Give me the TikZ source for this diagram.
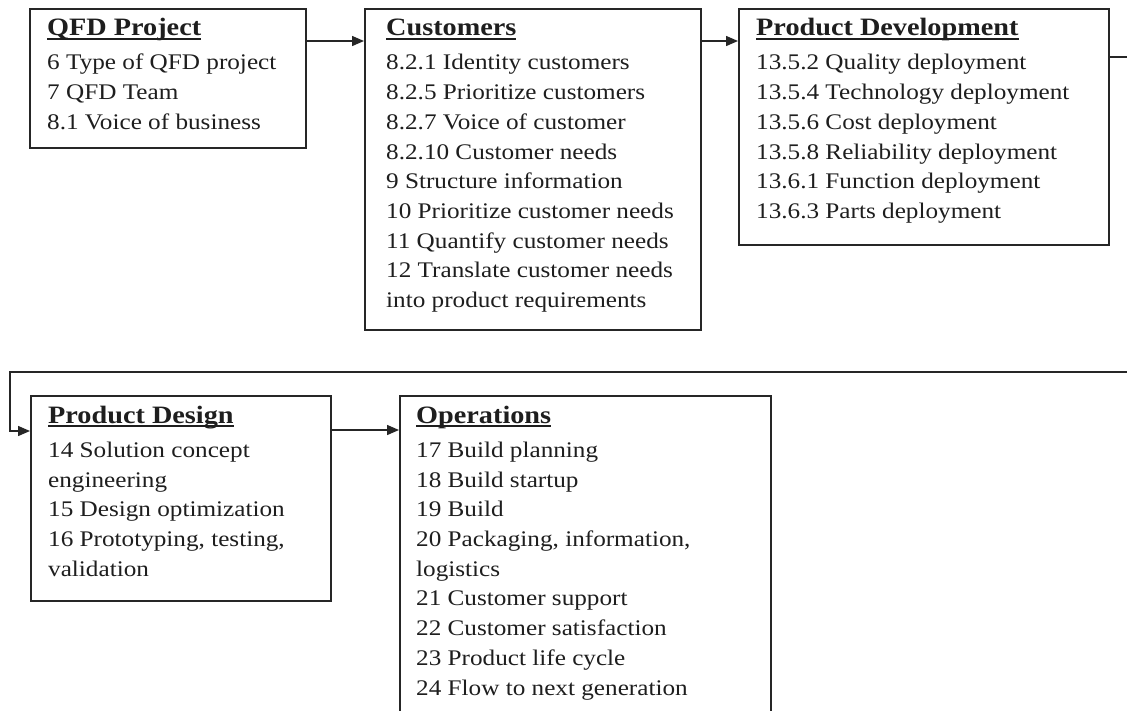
\documentclass[tikz,border=0pt]{standalone}
\usepackage{fontspec}
\setmainfont[FakeStretch=1.13]{Liberation Serif}
\usetikzlibrary{arrows.meta}
\definecolor{ink}{HTML}{1E1E1E}
\definecolor{edge}{HTML}{262626}
\newcommand{\boxtitle}[1]{{\fontsize{25}{29.7}\selectfont\bfseries\setbox0\hbox{#1}\rlap{\rule[-4pt]{\wd0}{1.9pt}}\box0}}
\newcommand{\firststrut}{\rule{0pt}{20pt}}
\begin{document}
\begin{tikzpicture}[x=1pt,y=-1pt,
  panel/.style={draw=edge, line width=1.6pt, anchor=north west, inner sep=0pt},
  txt/.style={anchor=north west, inner sep=0pt, align=left, text=ink,
    font=\fontsize{22.3}{29.7}\selectfont},
  conn/.style={draw=edge, line width=1.4pt},
  arr/.style={conn, -{Triangle[length=12pt,width=10pt]}}]
\useasboundingbox (0,0) rectangle (1127,710);
\fill[white] (0,0) rectangle (1127,710);
\clip (0,0) rectangle (1127,710);

% boxes
\node[panel, minimum width=276pt, minimum height=139pt] (qfd) at (29,8) {};
\node[panel, minimum width=336pt, minimum height=321pt] (cust) at (364,8) {};
\node[panel, minimum width=370pt, minimum height=236pt] (pd) at (738,8) {};
\node[panel, minimum width=300pt, minimum height=205pt] (pdes) at (30,395) {};
\node[panel, minimum width=371pt, minimum height=335pt] (ops) at (399,395) {};

% texts
\node[txt] (qfdt) at (47,15.5) {\firststrut\boxtitle{QFD Project}\\[4.5pt]
6 Type of QFD project\\
7 QFD Team\\
8.1 Voice of business};

\node[txt] (custt) at (386,15.5) {\firststrut\boxtitle{Customers}\\[4.5pt]
8.2.1 Identity customers\\
8.2.5 Prioritize customers\\
8.2.7 Voice of customer\\
8.2.10 Customer needs\\
9 Structure information\\
10 Prioritize customer needs\\
11 Quantify customer needs\\
12 Translate customer needs\\
into product requirements};

\node[txt] (pdt) at (756,15.5) {\firststrut\boxtitle{Product Development}\\[4.5pt]
13.5.2 Quality deployment\\
13.5.4 Technology deployment\\
13.5.6 Cost deployment\\
13.5.8 Reliability deployment\\
13.6.1 Function deployment\\
13.6.3 Parts deployment};

\node[txt] (pdest) at (48,403) {\firststrut\boxtitle{Product Design}\\[4.5pt]
14 Solution concept\\
engineering\\
15 Design optimization\\
16 Prototyping, testing,\\
validation};

\node[txt] (opst) at (416,403) {\firststrut\boxtitle{Operations}\\[4.5pt]
17 Build planning\\
18 Build startup\\
19 Build\\
20 Packaging, information,\\
logistics\\
21 Customer support\\
22 Customer satisfaction\\
23 Product life cycle\\
24 Flow to next generation};

% connectors
\coordinate (r1) at (1129,57);
\coordinate (r2) at (1129,372);
\coordinate (l1) at (10,372);
\draw[arr] ([yshift=-33pt]qfd.north east) -- ([yshift=-33pt]cust.north west);
\draw[arr] ([yshift=-33pt]cust.north east) -- ([yshift=-33pt]pd.north west);
\draw[arr] ([yshift=-49pt]pd.north east) -- (r1) -- (r2) -- (l1) |- ([yshift=-36pt]pdes.north west);
\draw[arr] ([yshift=-35pt]pdes.north east) -- ([yshift=-35pt]ops.north west);
\end{tikzpicture}
\end{document}
